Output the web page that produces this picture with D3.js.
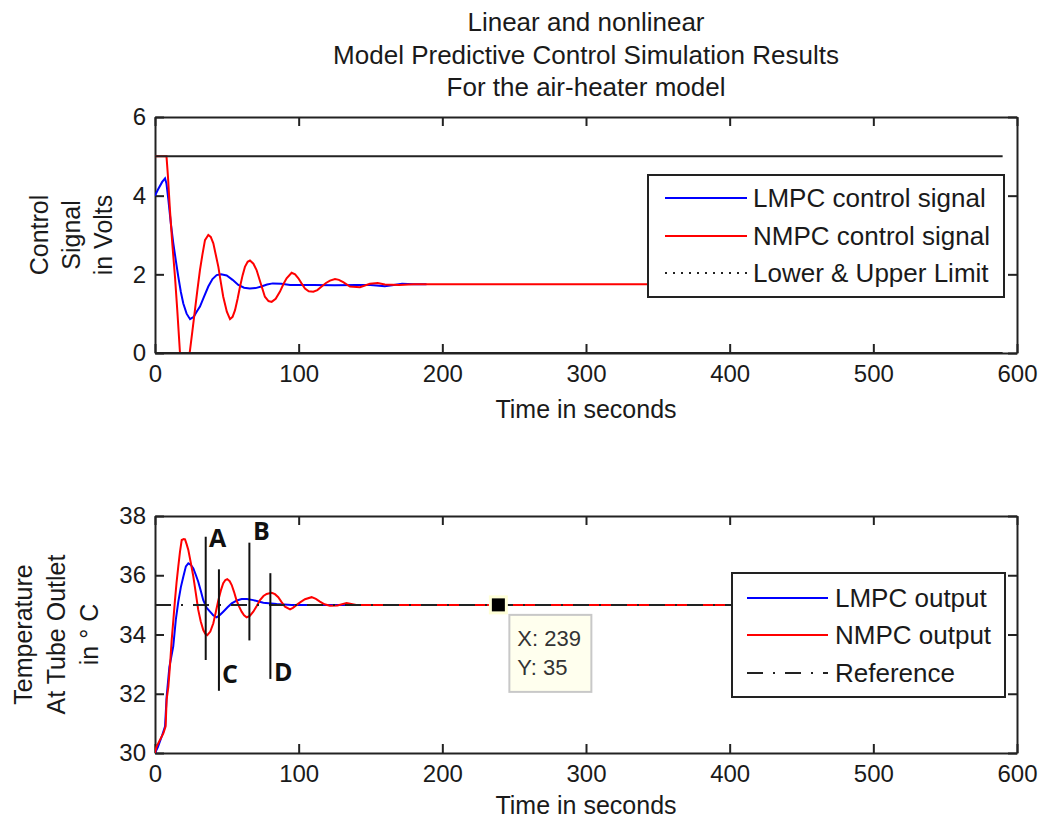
<!DOCTYPE html>
<html>
<head>
<meta charset="utf-8">
<script src="https://cdn.jsdelivr.net/npm/d3@7"></script>
<style>
  body { margin: 0; background: #fff; }
  text { font-family: "Liberation Sans", Arial, sans-serif; fill: #1a1a1a; }
</style>
</head>
<body>
<div id="chart"></div>
<script>
var svgWidth = 1041
var svgHeight = 821

// Data: [time in s, value]
var lmpcControl = [[0,4.0],[2,4.15],[5,4.35],[7,4.44],[8,4.3],[9.3,3.9],[11,3.3],[12.7,2.8],[14.5,2.35],[16.2,1.94],[18,1.55],[19.7,1.26],[22,1.0],[24.4,0.86],[27,0.92],[29,1.05],[31.3,1.18],[34,1.42],[37.1,1.69],[40,1.88],[42.9,1.98],[46,2.0],[49.9,1.97],[54,1.86],[58,1.73],[62,1.66],[66,1.64],[70,1.65],[74,1.69],[78,1.74],[82,1.77],[88,1.76],[94,1.73],[110,1.73],[125,1.72],[140,1.73],[150,1.73],[160,1.70],[165,1.72],[172,1.76],[180,1.75],[189,1.75]]

var nmpcControl = [[0,5],[8,5],[9,4.5],[10.4,3.64],[12,2.8],[13.9,1.94],[15.5,1.09],[17.4,0.0],[19,-0.4],[21,-0.5],[23,-0.3],[24.4,0.08],[26,0.55],[27.8,1.09],[29.5,1.6],[31.3,2.11],[33,2.5],[34.8,2.87],[37.1,3.0],[38.8,2.95],[40.6,2.79],[42.3,2.5],[44.1,2.19],[45.8,1.8],[47.5,1.43],[50,1.05],[52.2,0.86],[54,0.92],[55.7,1.09],[57.5,1.38],[59.2,1.69],[61,1.98],[62.6,2.19],[64.5,2.32],[66.1,2.35],[68.5,2.27],[70.7,2.11],[73.5,1.78],[76.5,1.43],[79,1.32],[81.2,1.30],[84,1.38],[87,1.56],[89.5,1.76],[91.6,1.90],[95.1,2.04],[97.5,2.0],[99.8,1.90],[102,1.77],[104.4,1.64],[107,1.57],[110.2,1.56],[113,1.6],[116,1.69],[119,1.78],[121.8,1.84],[125.3,1.88],[128,1.86],[131,1.80],[135.7,1.69],[142.7,1.67],[149.6,1.76],[155,1.78],[160,1.74],[170,1.73],[180,1.75],[200,1.75],[400,1.75]]

var controlLimits = [[[0,5],[590,5]], [[0,0],[590,0]]]

var lmpcOutput = [[0,30],[2,30.2],[5,30.6],[7,30.9],[8.1,31.9],[10,32.9],[12.7,33.6],[14.5,34.5],[16.2,35.1],[18,35.6],[19.7,35.95],[21.5,36.3],[23.2,36.4],[25,36.35],[26.7,36.23],[28.5,36.0],[30.1,35.78],[32,35.45],[33.6,35.16],[36,34.9],[38.3,34.77],[40.5,34.65],[42.9,34.58],[45,34.65],[47.5,34.77],[50.5,34.92],[53.4,35.05],[57,35.15],[60.3,35.2],[64,35.2],[68.4,35.16],[75.4,35.07],[84.7,35.03],[95,35.0],[190,35.0]]

var nmpcOutput = [[0,30],[1,30.2],[3,30.4],[5.8,30.66],[7.4,30.9],[8.1,31.8],[9.3,32.24],[10.5,33.0],[11.6,33.8],[12.8,34.5],[13.9,35.16],[15,35.75],[16.2,36.29],[17.4,36.8],[18.6,37.19],[20,37.22],[20.9,37.21],[22,37.05],[23.2,36.85],[25,36.4],[26.7,35.95],[28.4,35.4],[30.1,34.83],[31.8,34.45],[33.6,34.15],[35,34.02],[36.4,33.98],[38.5,34.1],[40.6,34.38],[42.3,34.75],[44.1,35.16],[45.8,35.48],[47.5,35.73],[49,35.84],[50.3,35.87],[52,35.8],[53.4,35.67],[55,35.44],[56.7,35.16],[58.5,34.95],[60.3,34.77],[62,34.65],[63.8,34.58],[66,34.63],[68.4,34.77],[70.7,34.95],[73.1,35.16],[75.5,35.3],[77.7,35.37],[81.2,35.41],[83.5,35.36],[85.8,35.26],[88,35.1],[90.5,34.94],[94,34.85],[96,34.9],[98.6,35.0],[101.5,35.1],[104.4,35.19],[109,35.26],[112,35.2],[114.8,35.11],[118,35.02],[121.8,34.97],[127,34.98],[133.4,35.06],[140,35.0],[400,35.0]]

var reference = [[0,35],[590,35]]

// Annotation marks A-D: time, temperature span, label anchor
var marks = [
  {label: "A", t: 35.3, lo: 33.14, hi: 37.3, lt: 37.6, lT: 37.26},
  {label: "C", t: 44.5, lo: 32.1, hi: 36.2, lt: 46.6, lT: 32.67},
  {label: "B", t: 65.7, lo: 33.8, hi: 37.1, lt: 68.2, lT: 37.49},
  {label: "D", t: 80.3, lo: 32.5, hi: 36.07, lt: 82.8, lT: 32.73}
]
var dataTip = {t: 239, T: 35}

var xTicks = [0, 100, 200, 300, 400, 500, 600]
var controlTicks = [0, 2, 4, 6]
var tempTicks = [30, 32, 34, 36, 38]

var titleLines = ["Linear and nonlinear", "Model Predictive Control Simulation Results", "For the air-heater model"]

var margin = {left: 155, right: 24}
var plotWidth = svgWidth - margin.left - margin.right

var svg = d3.select("#chart")
    .append("svg")
    .attr("width", svgWidth)
    .attr("height", svgHeight)

var defs = svg.append("defs")

var xScale = d3.scaleLinear().domain([0, 600]).range([margin.left, margin.left + plotWidth])

// Title
svg.selectAll(".title")
    .data(titleLines)
    .enter()
    .append("text")
    .attr("x", margin.left + plotWidth / 2)
    .attr("y", (d, i) => 31 + i * 32.5)
    .attr("text-anchor", "middle")
    .attr("font-size", 26)
    .text(d => d)

function drawPanel(cfg) {
    var yScale = d3.scaleLinear().domain(cfg.domain).range([cfg.bottom, cfg.top])
    var g = svg.append("g")

    defs.append("clipPath").attr("id", cfg.id)
        .append("rect")
        .attr("x", margin.left).attr("y", cfg.top)
        .attr("width", plotWidth).attr("height", cfg.bottom - cfg.top)

    var axisColor = "#222"
    var ax = g.append("g").attr("class", "axes")
    ax.append("g").attr("transform", `translate(0,${cfg.bottom})`)
        .call(d3.axisBottom(xScale).tickValues(xTicks).tickSize(-9).tickSizeOuter(0).tickPadding(12).tickFormat(d3.format("d")))
    ax.append("g").attr("transform", `translate(0,${cfg.top})`)
        .call(d3.axisTop(xScale).tickValues(xTicks).tickSize(-9).tickSizeOuter(0).tickFormat(""))
    ax.append("g").attr("transform", `translate(${margin.left},0)`)
        .call(d3.axisLeft(yScale).tickValues(cfg.ticks).tickSize(-9).tickSizeOuter(0).tickPadding(9).tickFormat(d3.format("d")))
    ax.append("g").attr("transform", `translate(${margin.left + plotWidth},0)`)
        .call(d3.axisRight(yScale).tickValues(cfg.ticks).tickSize(-9).tickSizeOuter(0).tickFormat(""))
    ax.selectAll("path, line").attr("stroke", axisColor).attr("stroke-width", 2)
    ax.selectAll("text").attr("font-size", 24).attr("fill", "#1a1a1a")
        .style("font-family", "'Liberation Sans', Arial, sans-serif")

    var line = d3.line().x(d => xScale(d[0])).y(d => yScale(d[1]))
    var plot = g.append("g").attr("clip-path", `url(#${cfg.id})`)
    cfg.series.forEach(s => {
        plot.append("path")
            .attr("d", line(s.data))
            .attr("fill", "none")
            .attr("stroke", s.color)
            .attr("stroke-width", s.width || 2)
            .attr("stroke-dasharray", s.dash || null)
    })

    // y label
    cfg.ylabel.forEach((txt, i) => {
        g.append("text")
            .attr("transform", `translate(${cfg.ylabelX[i]},${(cfg.top + cfg.bottom) / 2}) rotate(-90)`)
            .attr("text-anchor", "middle")
            .attr("dy", "0.35em")
            .attr("font-size", 25)
            .text(txt)
    })
    // x label
    g.append("text")
        .attr("x", margin.left + plotWidth / 2)
        .attr("y", cfg.bottom + cfg.xlabelOffset)
        .attr("text-anchor", "middle")
        .attr("font-size", 25)
        .text("Time in seconds")

    return {g: g, yScale: yScale}
}

function drawLegend(g, box, entries) {
    g.append("rect")
        .attr("x", box.x).attr("y", box.y)
        .attr("width", box.w).attr("height", box.h)
        .attr("fill", "#fff").attr("stroke", "#222").attr("stroke-width", 2)
    entries.forEach((e, i) => {
        var cy = box.rows[i]
        g.append("line")
            .attr("x1", box.lx1).attr("x2", box.lx2)
            .attr("y1", cy).attr("y2", cy)
            .attr("stroke", e.color).attr("stroke-width", e.width || 2)
            .attr("stroke-dasharray", e.dash || null)
        g.append("text")
            .attr("x", box.tx).attr("y", cy)
            .attr("dy", "0.36em")
            .attr("font-size", 26)
            .text(e.label)
    })
}

// Top panel: control signal
var controlPanel = drawPanel({
    id: "clipTop", top: 117, bottom: 353, domain: [0, 6], ticks: controlTicks, xlabelOffset: 65,
    ylabel: ["Control", "Signal", "in Volts"], ylabelX: [39, 71, 103],
    series: [
        {data: lmpcControl, color: "#0000ff"},
        {data: nmpcControl, color: "#ff0000"},
        {data: controlLimits[0], color: "#222"},
        {data: controlLimits[1], color: "#222"}
    ]
})
drawLegend(controlPanel.g, {x: 648, y: 175, w: 356, h: 122, rows: [198, 236, 273], lx1: 665, lx2: 747, tx: 753}, [
    {label: "LMPC control signal", color: "#0000ff"},
    {label: "NMPC control signal", color: "#ff0000"},
    {label: "Lower & Upper Limit", color: "#222", dash: "2,6"}
])

// Bottom panel: temperature
var tempPanel = drawPanel({
    id: "clipBottom", top: 516, bottom: 753, domain: [30, 38], ticks: tempTicks, xlabelOffset: 61,
    ylabel: ["Temperature", "At Tube Outlet", "in \u00b0 C"], ylabelX: [23, 56, 89],
    series: [
        {data: lmpcOutput, color: "#0000ff"},
        {data: nmpcOutput, color: "#ff0000"},
        {data: reference, color: "#222", dash: "16,10,2,10"}
    ]
})

// A-D marks
var yT = tempPanel.yScale
marks.forEach(m => {
    tempPanel.g.append("line")
        .attr("x1", xScale(m.t)).attr("x2", xScale(m.t))
        .attr("y1", yT(m.lo)).attr("y2", yT(m.hi))
        .attr("stroke", "#111").attr("stroke-width", 2)
    tempPanel.g.append("text")
        .attr("x", xScale(m.lt)).attr("y", yT(m.lT))
        .attr("dy", "0.36em")
        .attr("font-size", 25)
        .attr("font-weight", "bold")
        .style("font-family", "'Open Sans', 'DejaVu Sans', sans-serif")
        .style("fill", "#111")
        .text(m.label)
})

// Data tip
var tipX = xScale(dataTip.t), tipY = yT(dataTip.T)
tempPanel.g.append("rect")
    .attr("x", tipX - 8).attr("y", tipY - 8)
    .attr("width", 16).attr("height", 16)
    .attr("fill", "#000").attr("stroke", "#ffffd8").attr("stroke-width", 3)
tempPanel.g.append("rect")
    .attr("x", tipX + 11).attr("y", tipY + 10)
    .attr("width", 82).attr("height", 77)
    .attr("fill", "#ffffee").attr("stroke", "#c8c8c8").attr("stroke-width", 2)
tempPanel.g.append("text")
    .attr("x", tipX + 19).attr("y", tipY + 41)
    .attr("font-size", 22).style("fill", "#333")
    .text("X: " + dataTip.t)
tempPanel.g.append("text")
    .attr("x", tipX + 19).attr("y", tipY + 70)
    .attr("font-size", 22).style("fill", "#333")
    .text("Y: " + dataTip.T)

drawLegend(tempPanel.g, {x: 732, y: 573, w: 273, h: 124, rows: [598, 635, 673], lx1: 747, lx2: 828, tx: 835}, [
    {label: "LMPC output", color: "#0000ff"},
    {label: "NMPC output", color: "#ff0000"},
    {label: "Reference", color: "#222", dash: "16,10,2,10"}
])
</script>
</body>
</html>
